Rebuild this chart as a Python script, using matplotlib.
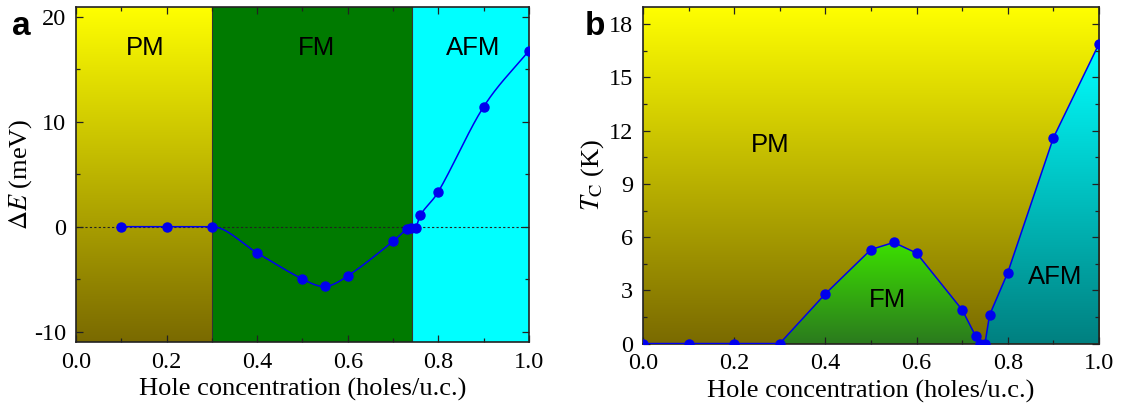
import numpy as np
import matplotlib
matplotlib.use('Agg')
import matplotlib.pyplot as plt
from matplotlib.colors import LinearSegmentedColormap
from matplotlib.patches import Polygon
from matplotlib.ticker import MultipleLocator, FormatStrFormatter

plt.rcParams['font.family'] = 'Liberation Serif'
plt.rcParams['mathtext.fontset'] = 'stix'
plt.rcParams['axes.unicode_minus'] = False

# panel a: energy difference vs hole concentration
x_a = [0.1, 0.2, 0.3, 0.4, 0.5, 0.55, 0.6, 0.7, 0.73, 0.74, 0.75, 0.76, 0.8, 0.9, 1.0]
dE = [0.0, 0.0, 0.0, -2.5, -5.0, -5.7, -4.7, -1.4, -0.25, -0.15, -0.1, 1.1, 3.35, 11.45, 16.8]

# panel b: critical temperature vs hole concentration
x_b = [0.0, 0.1, 0.2, 0.3, 0.4, 0.5, 0.55, 0.6, 0.7, 0.73, 0.74, 0.75, 0.76, 0.8, 0.9, 1.0]
Tc = [0.0, 0.0, 0.0, 0.0, 2.8, 5.3, 5.7, 5.1, 1.9, 0.4, 0.0, 0.0, 1.6, 4.0, 11.6, 16.9]

# phase boundaries (panel a)
bounds_a = [0.0, 0.3, 0.742, 1.0]
phases = ['PM', 'FM', 'AFM']

blue = '#0000EE'


def spline(x, y, xs):
    # cubic hermite with finite-difference tangents (smooth line in panel a)
    x = np.asarray(x, float)
    y = np.asarray(y, float)
    h = np.diff(x)
    d = np.diff(y) / h
    m = np.empty_like(y)
    m[0], m[-1] = d[0], d[-1]
    m[1:-1] = (y[2:] - y[:-2]) / (x[2:] - x[:-2])
    # flat where a neighbouring segment is flat (no overshoot on the PM plateau)
    flat = np.r_[False, d == 0] | np.r_[d == 0, False]
    m[flat] = 0.0
    i = np.clip(np.searchsorted(x, xs) - 1, 0, len(x) - 2)
    t = (xs - x[i]) / h[i]
    h00 = 2 * t**3 - 3 * t**2 + 1
    h10 = t**3 - 2 * t**2 + t
    h01 = -2 * t**3 + 3 * t**2
    h11 = t**3 - t**2
    return h00 * y[i] + h10 * h[i] * m[i] + h01 * y[i + 1] + h11 * h[i] * m[i + 1]


def gradient(ax, bottom, top, x0, x1, y0, y1, clip=None):
    cmap = LinearSegmentedColormap.from_list('g', [bottom, top])
    im = ax.imshow(np.linspace(0, 1, 256).reshape(-1, 1), cmap=cmap, origin='lower',
                   extent=(x0, x1, y0, y1), aspect='auto', zorder=0, interpolation='bilinear')
    if clip is not None:
        ax.add_patch(clip)
        im.set_clip_path(clip)
    return im


def style(ax):
    ax.tick_params(which='both', direction='in', top=True, right=True, labelsize=17.5,
                   width=0.9, color='#222222')
    ax.tick_params(which='major', length=5, pad=7)
    ax.tick_params(which='minor', length=3)
    ax.xaxis.set_major_locator(MultipleLocator(0.2))
    ax.xaxis.set_minor_locator(MultipleLocator(0.1))
    ax.xaxis.set_major_formatter(FormatStrFormatter('%.1f'))
    for s in ax.spines.values():
        s.set_linewidth(1.2)
        s.set_color('#222222')
    ax.set_xlabel('Hole concentration (holes/u.c.)', fontsize=19, labelpad=4)


fig = plt.figure(figsize=(11.22, 4.08), dpi=100)
axa = fig.add_axes([0.0677, 0.1618, 0.4038, 0.8222])
axb = fig.add_axes([0.573, 0.158, 0.4065, 0.826])

# ---- panel a ----
ya0, ya1 = -11, 21
gradient(axa, '#7A6A00', '#FFFF00', bounds_a[0], bounds_a[1], ya0, ya1)
axa.axvspan(bounds_a[1], bounds_a[2], color='#007A00', zorder=0, lw=0)
axa.axvspan(bounds_a[2], bounds_a[3], color='#00FFFF', zorder=0, lw=0)
for b in bounds_a[1:3]:
    axa.axvline(b, color='#333333', lw=0.8, zorder=1)
axa.axhline(0, color='#222222', lw=0.8, ls=(0, (2, 2)), zorder=1)

xs = np.linspace(x_a[0], x_a[-1], 400)
axa.plot(xs, spline(x_a, dE, xs), color=blue, lw=1.1, zorder=2)
axa.plot(x_a, dE, 'o', color=blue, ms=6.5, zorder=3)

for name, xc in zip(phases, [0.152, 0.53, 0.876]):
    axa.text(xc, 17.0, name, ha='center', va='center', fontsize=18.5, family='Liberation Sans')

axa.set_xlim(0, 1)
axa.set_ylim(ya0, ya1)
axa.yaxis.set_major_locator(MultipleLocator(10))
axa.yaxis.set_minor_locator(MultipleLocator(5))
style(axa)
axa.set_ylabel(r'$\Delta E$ (meV)', fontsize=19, labelpad=0)
fig.text(0.011, 0.914, 'a', fontsize=24, fontweight='bold', family='Liberation Sans')

# ---- panel b ----
yb1 = 19
gradient(axb, '#7A6A00', '#FFFF00', 0, 1, 0, yb1)

xb = np.array(x_b)
tb = np.array(Tc)
fm = (xb >= 0.3) & (xb <= 0.75)
afm = xb >= 0.75
fm_poly = Polygon(np.column_stack([xb[fm], tb[fm]]), closed=True, transform=axb.transData,
                  fc='none', lw=0)
afm_pts = np.vstack([np.column_stack([xb[afm], tb[afm]]), [[xb[-1], 0.0]]])
afm_poly = Polygon(afm_pts, closed=True, transform=axb.transData, fc='none', lw=0)
gradient(axb, '#2B7A1E', '#3CE000', 0.3, 0.75, 0, max(tb[fm]), clip=fm_poly)
gradient(axb, '#008080', '#00FFFF', 0.75, 1.0, 0, max(tb[afm]), clip=afm_poly)

axb.plot(x_b, Tc, '-o', color=blue, lw=1.1, ms=6.5, zorder=3)

axb.text(0.28, 11.2, 'PM', ha='center', va='center', fontsize=18.5, family='Liberation Sans')
axb.text(0.537, 2.45, 'FM', ha='center', va='center', fontsize=18.5, family='Liberation Sans')
axb.text(0.904, 3.75, 'AFM', ha='center', va='center', fontsize=18.5, family='Liberation Sans')

axb.set_xlim(0, 1)
axb.set_ylim(0, yb1)
axb.yaxis.set_major_locator(MultipleLocator(3))
axb.yaxis.set_minor_locator(MultipleLocator(1.5))
style(axb)
axb.set_ylabel(r'$T_{\rm C}$ (K)', fontsize=19, labelpad=2)
fig.text(0.521, 0.914, 'b', fontsize=24, fontweight='bold', family='Liberation Sans')

fig.savefig('out.png', dpi=100)
